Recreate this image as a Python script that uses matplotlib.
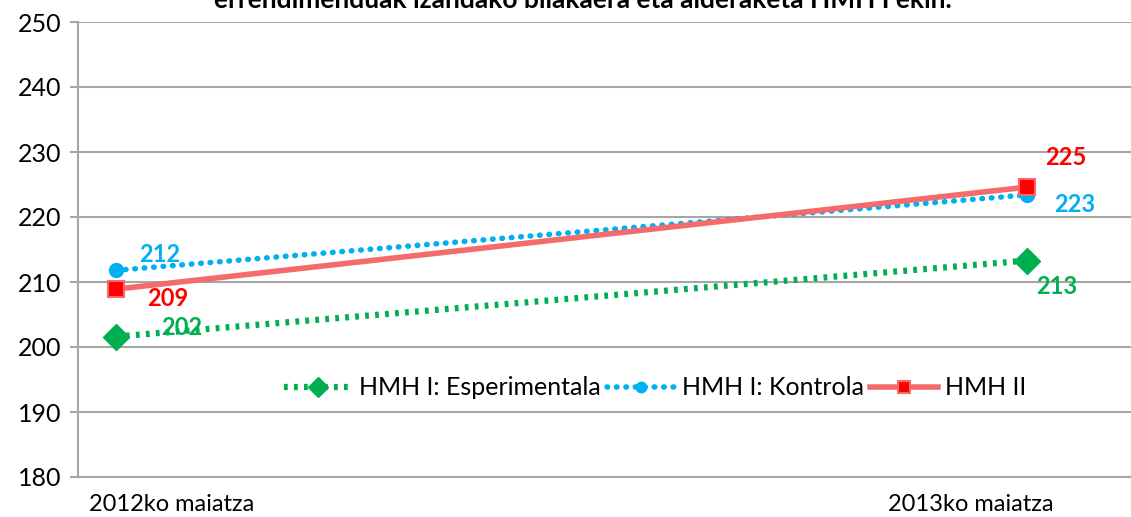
import matplotlib.pyplot as plt
import numpy as np

plt.rcParams['font.family'] = ['Lato', 'DejaVu Sans']

# datuak
periods = ['2012ko maiatza', '2013ko maiatza']
esperimentala = [201.6, 213.3]
kontrola = [211.8, 223.4]
hmh2 = [208.9, 224.6]

x = np.arange(len(periods))

fig = plt.figure(figsize=(11.31, 5.17), dpi=100)
ax = fig.add_axes([78 / 1131, 40 / 517, 1053 / 1131, 455 / 517])

grid_col = '#A6A6A6'
green = '#00B050'
blue = '#00B0F0'
red = '#FF0000'
salmon = '#F56B6B'

ax.plot(x, esperimentala, color=green, lw=4.5, linestyle=(0, (0.6, 1.0)),
        marker='D', markersize=13, markerfacecolor=green, markeredgecolor=green,
        label='HMH I: Esperimentala', zorder=3)
ax.plot(x, kontrola, color=blue, lw=4, linestyle=(0, (0.1, 1.6)), dash_capstyle='round',
        marker='o', markersize=10, markerfacecolor=blue, markeredgecolor=blue,
        label='HMH I: Kontrola', zorder=3)
ax.plot(x, hmh2, color=salmon, lw=4, marker='s', markersize=12,
        markerfacecolor=red, markeredgecolor=salmon, markeredgewidth=1.5,
        label='HMH II', zorder=4)

# balio etiketak
def lab(xv, yv, dx, dy, col):
    ax.annotate(f'{yv:.0f}', (xv, yv), xytext=(dx, dy), textcoords='offset pixels',
                ha='center', va='center', color=col, fontsize=17, fontweight='bold', zorder=5)

lab(x[0], kontrola[0], 44, 16, blue)
lab(x[0], hmh2[0], 52, -9, red)
lab(x[0], esperimentala[0], 66, 9, green)
lab(x[1], hmh2[1], 39, 30, red)
lab(x[1], kontrola[1], 48, -10, blue)
lab(x[1], esperimentala[1], 30, -26, green)

x0 = -38 / 911
ax.set_xlim(x0, x0 + 1053 / 911)
ax.set_ylim(180, 250)
ax.set_yticks(np.arange(180, 251, 10))
ax.yaxis.grid(True, color=grid_col, lw=1.5)
ax.set_axisbelow(True)

ax.set_xticks([(172 - 116) / 911, (971 - 116) / 911])
ax.set_xticklabels(periods)
ax.tick_params(axis='x', length=0, pad=12, labelsize=17)
ax.tick_params(axis='y', length=6, width=1.5, color=grid_col, labelsize=18, pad=6)

for s in ['top', 'right']:
    ax.spines[s].set_visible(False)
for s in ['left', 'bottom']:
    ax.spines[s].set_color(grid_col)
    ax.spines[s].set_linewidth(1.5)

ax.legend(loc='center', bbox_to_anchor=(0.548, 0.196), ncol=3, frameon=False,
          fontsize=18, handlelength=2.7, handletextpad=0.3, columnspacing=0.25,
          markerscale=0.75)

fig.text(0.515, 1.0, 'errendimenduak izandako bilakaera eta alderaketa HMH I ekin.',
         ha='center', va='center', fontsize=19, fontweight='bold')

fig.savefig('out.png', dpi=100)
